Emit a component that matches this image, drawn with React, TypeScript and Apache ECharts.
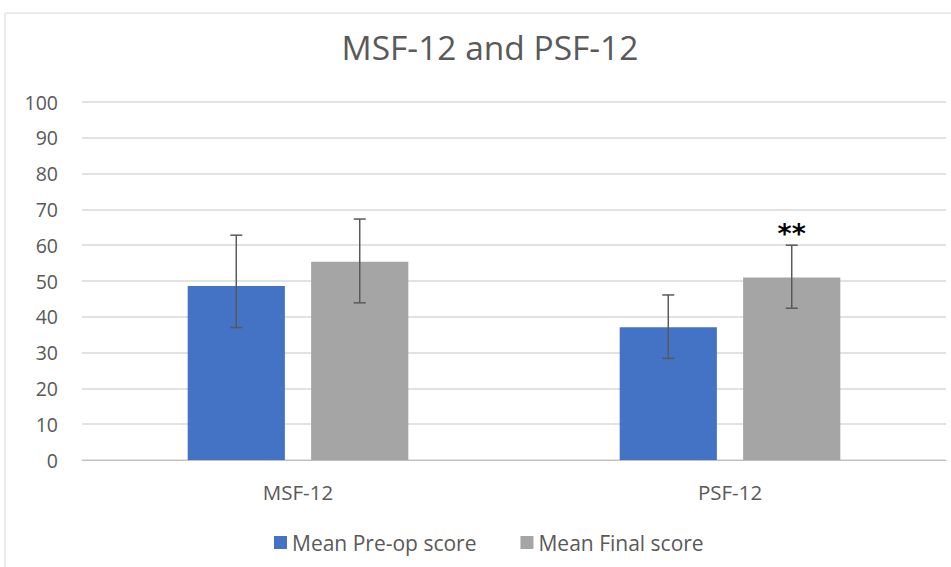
import React, { useEffect, useRef } from "react";
import * as echarts from "echarts";

const categories = ["MSF-12", "PSF-12"];
const seriesNames = ["Mean Pre-op score", "Mean Final score"];
const preOp = [48.6, 37.1];
const preOpLow = [37.0, 28.4];
const preOpHigh = [62.8, 46.1];
const finalScore = [55.4, 51.0];
const finalLow = [43.9, 42.4];
const finalHigh = [67.3, 60.0];
const finalMarks = ["", "**"];
const yTicks = [0, 100, 10];

const FONT = "'Open Sans', 'Noto Sans', sans-serif";

export default function App() {
  const ref = useRef<HTMLDivElement>(null);
  useEffect(() => {
    const chart = echarts.init(ref.current!, null, { renderer: "svg" });
    const barPct = 0.225;
    const gapRatio = 0.27;
    const errSeries = (name: string, low: number[], high: number[], sign: number, marks: string[]) => ({
      type: "custom",
      name,
      z: 5,
      data: low.map((l, i) => [i, l, high[i], marks[i]]),
      renderItem: (params: any, api: any) => {
        const i = api.value(0);
        const band = api.size([1, 0])[0];
        const off = sign * (band * barPct * (1 + gapRatio)) / 2;
        const pLow = api.coord([i, api.value(1)]);
        const pHigh = api.coord([i, api.value(2)]);
        const x = pLow[0] + off;
        const cap = 6;
        const st = { stroke: "#595959", lineWidth: 1.5 };
        const children: any[] = [
          { type: "line", shape: { x1: x, y1: pLow[1], x2: x, y2: pHigh[1] }, style: st },
          { type: "line", shape: { x1: x - cap, y1: pLow[1], x2: x + cap, y2: pLow[1] }, style: st },
          { type: "line", shape: { x1: x - cap, y1: pHigh[1], x2: x + cap, y2: pHigh[1] }, style: st },
        ];
        const mark = marks[i];
        if (mark) {
          children.push({
            type: "text",
            style: {
              text: mark,
              x: x,
              y: pHigh[1] + 2,
              textAlign: "center",
              textVerticalAlign: "bottom",
              fontSize: 27,
              fontWeight: "bold",
              fontFamily: "'DejaVu Sans', sans-serif",
              fill: "#000",
            },
          });
        }
        return { type: "group", children };
      },
    });
    chart.setOption({
      animation: false,
      graphic: [
        {
          type: "rect",
          shape: { x: 5, y: 13, width: 980, height: 620 },
          style: { fill: "none", stroke: "#d9d9d9", lineWidth: 1 },
          silent: true,
        },
        {
          type: "text",
          style: {
            text: "MSF-12 and PSF-12",
            x: 490,
            y: 47,
            textAlign: "center",
            textVerticalAlign: "middle",
            fontSize: 33.5,
            fontFamily: FONT,
            fill: "#595959",
          },
        },
      ],
      legend: {
        bottom: 9,
        left: 269,
        data: seriesNames,
        icon: "rect",
        itemWidth: 13,
        itemHeight: 13,
        itemGap: 44,
        textStyle: { fontSize: 21, color: "#595959", fontFamily: FONT },
      },
      grid: { left: 82, right: 5, top: 102, bottom: 107 },
      xAxis: {
        type: "category",
        data: categories,
        axisLine: { lineStyle: { color: "#bfbfbf", width: 1 } },
        axisTick: { show: false },
        axisLabel: { fontSize: 20.5, color: "#595959", fontFamily: FONT, margin: 21 },
      },
      yAxis: {
        type: "value",
        min: yTicks[0],
        max: yTicks[1],
        interval: yTicks[2],
        axisLine: { show: false },
        axisTick: { show: false },
        splitLine: { lineStyle: { color: "#d9d9d9", width: 1.5 } },
        axisLabel: { fontSize: 19.5, color: "#595959", fontFamily: FONT, margin: 24 },
      },
      series: [
        {
          name: seriesNames[0],
          type: "bar",
          data: preOp,
          barWidth: "22.5%",
          barGap: "27%",
          itemStyle: { color: "#4472C4" },
        },
        {
          name: seriesNames[1],
          type: "bar",
          data: finalScore,
          barWidth: "22.5%",
          barGap: "27%",
          itemStyle: { color: "#A5A5A5" },
        },
        errSeries("errPre", preOpLow, preOpHigh, -1, ["", ""]),
        errSeries("errFinal", finalLow, finalHigh, 1, finalMarks),
      ],
    });
    return () => chart.dispose();
  }, []);
  return (
    <div
      ref={ref}
      style={{ position: "absolute", left: 0, top: 0, width: 951, height: 567, background: "#fff" }}
    />
  );
}
